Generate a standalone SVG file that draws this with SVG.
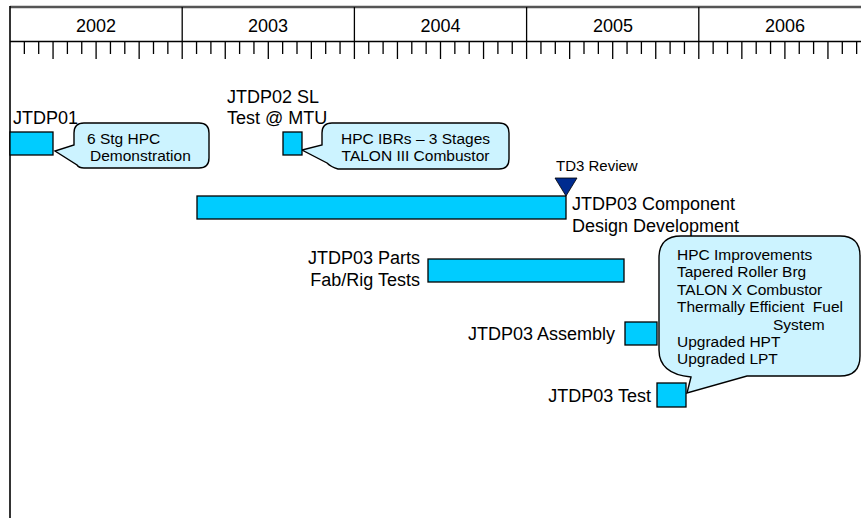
<svg xmlns="http://www.w3.org/2000/svg" width="861" height="518" viewBox="0 0 861 518">
<style>
  text { font-family: "Liberation Sans", Arial, sans-serif; fill: #000; }
  .yr { font-size: 18px; text-anchor: middle; }
  .lbl { font-size: 18px; }
  .end { text-anchor: end; }
  .co { font-size: 15.5px; }
  .cotxt { font-size: 15.5px; text-anchor: middle; }
  .bar { fill: #00CCFF; stroke: #000; stroke-width: 1.3; }
  .call { fill: #CCF3FF; stroke: #000; stroke-width: 1.4; }
  .tick { stroke: #000; stroke-width: 1.3; }
  .frame { stroke: #000; stroke-width: 1.6; fill: none; }
</style>

<g id="timescale">
  <line x1="10" y1="7" x2="861" y2="7" stroke="#555" stroke-width="2.5"/>
  <line x1="10" y1="6" x2="10" y2="518" class="frame" stroke-width="2"/>
  <line x1="10" y1="41.5" x2="861" y2="41.5" class="frame"/>
  <g class="tick">
    <line x1="182.2" y1="7" x2="182.2" y2="59"/>
    <line x1="354.4" y1="7" x2="354.4" y2="59"/>
    <line x1="526.6" y1="7" x2="526.6" y2="59"/>
    <line x1="698.8" y1="7" x2="698.8" y2="59"/>
  </g>
  <path class="tick" d="
    M24.35,42V54 M38.7,42V54 M53.05,42V59 M67.4,42V54 M81.75,42V54 M96.1,42V59 M110.45,42V54 M124.8,42V54 M139.15,42V59 M153.5,42V54 M167.85,42V54
    M196.55,42V54 M210.9,42V54 M225.25,42V59 M239.6,42V54 M253.95,42V54 M268.3,42V59 M282.65,42V54 M297,42V54 M311.35,42V59 M325.7,42V54 M340.05,42V54
    M368.75,42V54 M383.1,42V54 M397.45,42V59 M411.8,42V54 M426.15,42V54 M440.5,42V59 M454.85,42V54 M469.2,42V54 M483.55,42V59 M497.9,42V54 M512.25,42V54
    M540.95,42V54 M555.3,42V54 M569.65,42V59 M584,42V54 M598.35,42V54 M612.7,42V59 M627.05,42V54 M641.4,42V54 M655.75,42V59 M670.1,42V54 M684.45,42V54
    M713.15,42V54 M727.5,42V54 M741.85,42V59 M756.2,42V54 M770.55,42V54 M784.9,42V59 M799.25,42V54 M813.6,42V54 M827.95,42V59 M842.3,42V54 M856.65,42V54"/>
  <text class="yr" x="96" y="32">2002</text>
  <text class="yr" x="268" y="32">2003</text>
  <text class="yr" x="440.5" y="32">2004</text>
  <text class="yr" x="613" y="32">2005</text>
  <text class="yr" x="785" y="32">2006</text>
</g>

<g id="connectors">
  <path class="call" d="M84,123 H199 Q209,123 209,133 V158 Q209,168 199,168 H84 Q79,168 77,165 L55,151 L74,145 V133 Q74,123 84,123 Z"/>
  <path class="call" d="M332,123 H499 Q509,123 509,133 V159 Q509,169 499,169 H338 Q331,167 327,163 L302,150 L322,145 V133 Q322,123 332,123 Z"/>
  <path class="call" d="M681,236 H840 Q860,236 860,256 V356 Q860,376 840,376 H747 L687,393 L691,377 Q659,374 659,350 V258 Q659,236 681,236 Z"/>
</g>

<g id="jtdp01">
  <text class="lbl" x="13" y="124">JTDP01</text>
  <rect class="bar" x="10" y="132" width="43" height="23"/>
  <text class="co" x="87" y="144">6 Stg HPC</text>
  <text class="co" x="90" y="161">Demonstration</text>
</g>

<g id="jtdp02">
  <text class="lbl" x="227" y="103">JTDP02 SL</text>
  <text class="lbl" x="227" y="124">Test @ MTU</text>
  <rect class="bar" x="283" y="132" width="19" height="23"/>
  <text class="cotxt" x="415.5" y="144">HPC IBRs – 3 Stages</text>
  <text class="cotxt" x="415.5" y="161">TALON III Combustor</text>
</g>

<g id="td3-review">
  <text x="556" y="171" style="font-size:15px">TD3 Review</text>
  <polygon points="555,178 577,178 566,196" fill="#002B8F" stroke="#000" stroke-width="0.8"/>
</g>

<g id="jtdp03-design">
  <rect class="bar" x="197" y="196" width="369" height="23"/>
  <text class="lbl" x="572" y="210">JTDP03 Component</text>
  <text class="lbl" x="572" y="232">Design Development</text>
</g>

<g id="jtdp03-parts">
  <text class="lbl end" x="420" y="264">JTDP03 Parts</text>
  <text class="lbl end" x="420" y="286">Fab/Rig Tests</text>
  <rect class="bar" x="428" y="259" width="196" height="23"/>
</g>

<g id="jtdp03-assembly">
  <text class="lbl end" x="615" y="340">JTDP03 Assembly</text>
  <rect class="bar" x="625" y="322" width="32" height="23"/>
</g>

<g id="jtdp03-test">
  <text class="lbl end" x="651" y="402">JTDP03 Test</text>
  <rect class="bar" x="657" y="383" width="29" height="24"/>
</g>

<g id="improvements">
  <text class="co" x="677" y="260">HPC Improvements</text>
  <text class="co" x="677" y="277">Tapered Roller Brg</text>
  <text class="co" x="677" y="294.5">TALON X Combustor</text>
  <text class="co" x="677" y="312" xml:space="preserve">Thermally Efficient  Fuel</text>
  <text class="co" x="773" y="329.5">System</text>
  <text class="co" x="677" y="347">Upgraded HPT</text>
  <text class="co" x="677" y="364">Upgraded LPT</text>
</g>
</svg>
